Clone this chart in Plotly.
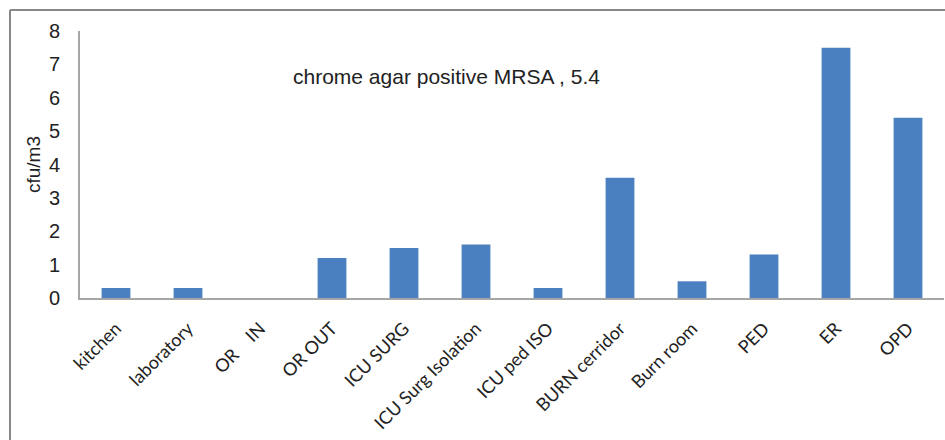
import plotly.graph_objects as go

# Sampling sites and colony counts (cfu/m3)
sites = ["kitchen", "laboratory", "OR\u00a0\u00a0\u00a0\u00a0IN", "OR OUT", "ICU SURG",
         "ICU Surg Isolation", "ICU ped ISO", "BURN cerridor", "Burn room",
         "PED", "ER", "OPD"]
cfu = [0.3, 0.3, 0.0, 1.2, 1.5, 1.6, 0.3, 3.6, 0.5, 1.3, 7.5, 5.4]
y_ticks = [0, 1, 2, 3, 4, 5, 6, 7, 8]
note = "chrome agar positive MRSA , 5.4"
y_title = "cfu/m3"

W, H = 945, 440
L, R, T, B = 80, 1, 31, 142
pw, ph = W - L - R, H - T - B


def px_x(x):
    return (x - L) / pw


def px_y(y):
    return (H - B - y) / ph


fig = go.Figure(go.Bar(
    x=sites, y=cfu,
    marker=dict(color="#4a7fc0", line=dict(width=0)),
))

fig.update_layout(
    width=W, height=H,
    margin=dict(l=L, r=R, t=T, b=B, autoexpand=False),
    paper_bgcolor="white", plot_bgcolor="white",
    bargap=0.6, showlegend=False,
    font=dict(family="Liberation Sans, Arial", color="#222"),
)

fig.update_xaxes(
    showgrid=False, showline=True, linecolor="#a6a6a6", linewidth=2,
    tickangle=-45, ticks="outside", ticklen=11, tickcolor="rgba(0,0,0,0)",
    tickfont=dict(family="Lato, Open Sans", size=18, color="#222"),
)
fig.update_yaxes(
    range=[0, 8], tickvals=y_ticks, showgrid=False, zeroline=False,
    showline=True, linecolor="#a6a6a6", linewidth=2, ticks="",
    ticklabelstandoff=14,
    tickfont=dict(family="Liberation Sans, Arial", size=20, color="#222"),
)

fig.add_annotation(
    text=note, xref="paper", yref="paper", x=px_x(291), y=px_y(76),
    xanchor="left", yanchor="middle", showarrow=False,
    font=dict(family="Liberation Sans, Arial", size=21, color="#222"),
)
fig.add_annotation(
    text=y_title, xref="paper", yref="paper", x=px_x(33), y=px_y(165),
    xanchor="center", yanchor="middle", textangle=-90, showarrow=False,
    font=dict(family="Liberation Sans, Arial", size=19, color="#222"),
)

# Outer chart frame (left and top edges visible)
frame = dict(color="#888888", width=2)
fig.add_shape(type="line", xref="paper", yref="paper",
              x0=px_x(10), x1=px_x(10), y0=px_y(10), y1=px_y(H + 5), line=frame)
fig.add_shape(type="line", xref="paper", yref="paper",
              x0=px_x(10), x1=px_x(W + 5), y0=px_y(10), y1=px_y(10), line=frame)

fig.write_html("out.html")
